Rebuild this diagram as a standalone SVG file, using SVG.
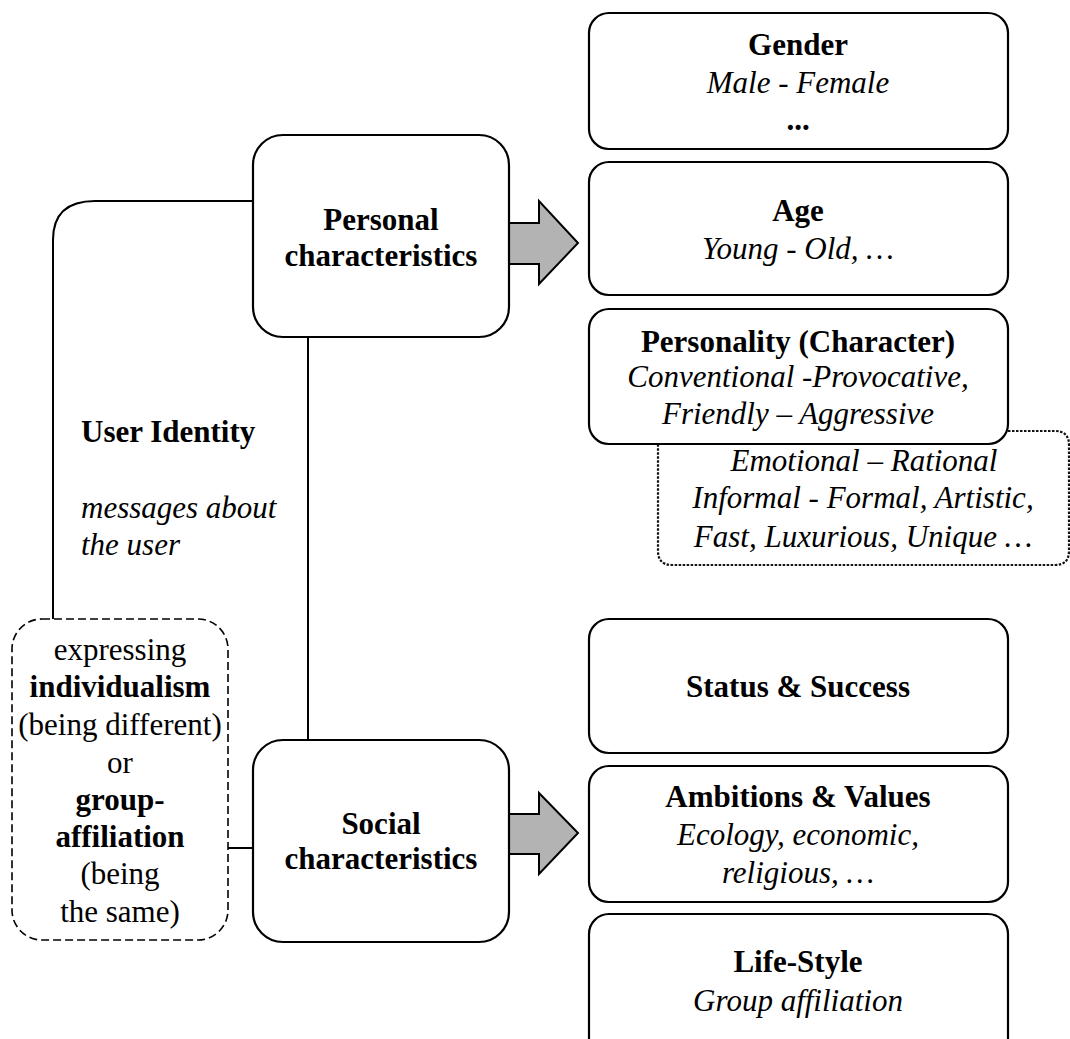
<svg xmlns="http://www.w3.org/2000/svg" width="1070" height="1039" viewBox="0 0 1070 1039">
<style>
.box{fill:#fff;stroke:#000;stroke-width:2.2}
.line{fill:none;stroke:#000;stroke-width:2}
.arrow{fill:#b3b3b3;stroke:#000;stroke-width:2;stroke-linejoin:miter}
.dash{fill:none;stroke:#000;stroke-width:1.6;stroke-dasharray:8 4}
.dot{fill:none;stroke:#111;stroke-width:2.2;stroke-dasharray:2.5 1.5}
.b{font-weight:bold}
.i{font-style:italic}
.c{text-anchor:middle}
</style>
<rect width="1070" height="1039" fill="#fff"/>
<g id="connectors">
<path class="line" d="M53,619 V240 Q53,201 95,201 H253"/>
<path class="line" d="M308,337 V740"/>
<path class="line" d="M228,848 H253"/>
<polygon class="arrow" points="509,223 539,223 539,201 578,243 539,284 539,264 509,264"/>
<polygon class="arrow" points="509,814 539,814 539,793 578,833 539,874 539,854 509,854"/>
</g>
<g font-family="Liberation Serif" font-size="31" fill="#000">
<g id="user-identity">
<text class="b" x="81" y="442">User Identity</text>
<text class="i" x="81" y="518">messages about</text>
<text class="i" x="81" y="555">the user</text>
</g>
<g id="personal">
<rect class="box" x="253" y="135" width="256" height="202" rx="30"/>
<text class="b c" x="381" y="230">Personal</text>
<text class="b c" x="381" y="266">characteristics</text>
</g>
<g id="social">
<rect class="box" x="253" y="740" width="256" height="202" rx="30"/>
<text class="b c" x="381" y="834">Social</text>
<text class="b c" x="381" y="869">characteristics</text>
</g>
<g id="expressing">
<rect class="dash" x="12" y="619" width="216" height="321" rx="30"/>
<text class="c" x="120" y="660">expressing</text>
<text class="b c" x="120" y="697">individualism</text>
<text class="c" x="120" y="735">(being different)</text>
<text class="c" x="120" y="773">or</text>
<text class="b c" x="120" y="810">group-</text>
<text class="b c" x="120" y="847">affiliation</text>
<text class="c" x="120" y="884">(being</text>
<text class="c" x="120" y="922">the same)</text>
</g>
<g id="gender">
<rect class="box" x="589" y="13" width="419" height="136" rx="20"/>
<text class="b c" x="798" y="55">Gender</text>
<text class="i c" x="798" y="93">Male - Female</text>
<text class="b c" x="798" y="130">...</text>
</g>
<g id="age">
<rect class="box" x="589" y="162" width="419" height="133" rx="20"/>
<text class="b c" x="798" y="221">Age</text>
<text class="i c" x="798" y="259">Young - Old, …</text>
</g>
<g id="personality-more">
<path class="dot" d="M1008,431 H1055 Q1069,431 1069,445 V551 Q1069,565 1055,565 H672 Q658,565 658,551 V444"/>
<text class="i c" x="864" y="471">Emotional – Rational</text>
<text class="i c" x="863" y="508">Informal - Formal, Artistic,</text>
<text class="i c" x="863" y="547">Fast, Luxurious, Unique …</text>
</g>
<g id="personality">
<rect class="box" x="589" y="309" width="419" height="135" rx="20"/>
<text class="b c" x="798" y="352">Personality (Character)</text>
<text class="i c" x="798" y="387">Conventional -Provocative,</text>
<text class="i c" x="798" y="424">Friendly – Aggressive</text>
</g>
<g id="status">
<rect class="box" x="589" y="619" width="419" height="134" rx="20"/>
<text class="b c" x="798" y="697">Status &amp; Success</text>
</g>
<g id="ambitions">
<rect class="box" x="589" y="766" width="419" height="136" rx="20"/>
<text class="b c" x="798" y="807">Ambitions &amp; Values</text>
<text class="i c" x="798" y="845">Ecology, economic,</text>
<text class="i c" x="798" y="883">religious, …</text>
</g>
<g id="lifestyle">
<rect class="box" x="589" y="914" width="419" height="160" rx="20"/>
<text class="b c" x="798" y="972">Life-Style</text>
<text class="i c" x="798" y="1011">Group affiliation</text>
</g>
</g>
</svg>
